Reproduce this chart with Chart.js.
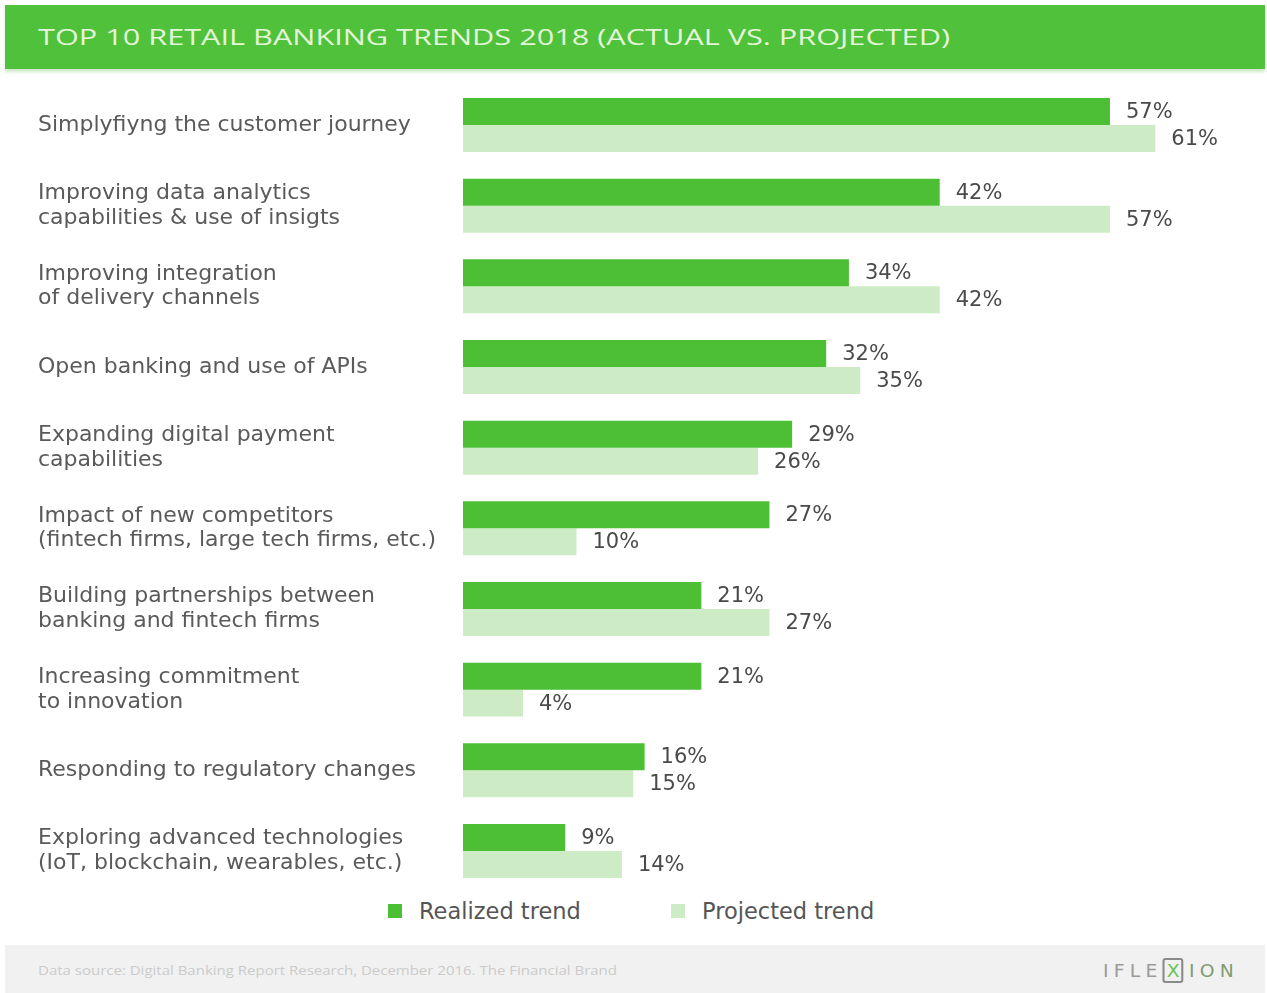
<!DOCTYPE html>
<html>
<head>
<meta charset="utf-8">
<script src="https://cdn.jsdelivr.net/npm/chart.js@4.4.1/dist/chart.umd.min.js"></script>
<style>
  html,body{margin:0;padding:0;background:#fff;width:1267px;height:993px;overflow:hidden;font-family:"Open Sans",sans-serif;}
  #header{position:absolute;left:5px;top:5px;width:1260px;height:64px;background:#4fc13a;box-shadow:0 3px 3px rgba(120,190,100,0.35);}
  #title{position:absolute;left:33px;top:18px;font-size:21px;line-height:28px;color:#e4f6d9;white-space:nowrap;transform-origin:0 50%;}
  #wrap{position:absolute;left:0;top:80px;width:1267px;height:816px;}
  #legend{position:absolute;top:898px;left:0;width:1267px;height:28px;font-size:22.5px;color:#555;font-family:"DejaVu Sans",sans-serif;}
  .lg{position:absolute;top:0;white-space:nowrap;line-height:26px;}
  .sw{position:absolute;top:6px;width:14px;height:14px;}
  #footer{position:absolute;left:5px;top:945px;width:1260px;height:48px;background:#f1f1f1;}
  #src{position:absolute;left:33px;top:17px;font-size:12px;color:#cbcbcb;white-space:nowrap;transform-origin:0 50%;}
  #logo{position:absolute;left:1098px;top:13px;font-size:18px;color:#9a9a9a;letter-spacing:5px;white-space:nowrap;font-family:"DejaVu Sans",sans-serif;transform-origin:0 50%;}
  #logo span{display:inline-block;border:2px solid #8a8a8a;border-radius:3px;color:#6cc35a;padding:0 2px;letter-spacing:0;line-height:21px;margin-right:5px;}
  #logo b{font-weight:normal;color:#7f9c76;}
</style>
</head>
<body>
<div id="header"><div id="title">TOP 10 RETAIL BANKING TRENDS 2018 (ACTUAL VS. PROJECTED)</div></div>
<div id="wrap"><canvas id="c"></canvas></div>
<div id="legend">
  <div class="sw" style="left:388px;background:#4cbf34"></div><div class="lg" style="left:419px">Realized trend</div>
  <div class="sw" style="left:671px;background:#cdebc5"></div><div class="lg" style="left:702px">Projected trend</div>
</div>
<div id="footer">
  <div id="src">Data source: Digital Banking Report Research, December 2016. The Financial Brand</div>
  <div id="logo">IFLE<span>X</span><b>ION</b></div>
</div>
<script>
const categories = [
  ["Simplyfiyng the customer journey"],
  ["Improving data analytics","capabilities & use of insigts"],
  ["Improving integration","of delivery channels"],
  ["Open banking and use of APIs"],
  ["Expanding digital payment","capabilities"],
  ["Impact of new competitors","(fintech firms, large tech firms, etc.)"],
  ["Building partnerships between","banking and fintech firms"],
  ["Increasing commitment","to innovation"],
  ["Responding to regulatory changes"],
  ["Exploring advanced technologies","(IoT, blockchain, wearables, etc.)"]
];
const realized = [57, 42, 34, 32, 29, 27, 21, 21, 16, 9];
const projected = [61, 57, 42, 35, 26, 10, 27, 4, 15, 14];
const seriesNames = ["Realized trend", "Projected trend"];

// stretch header/footer text to the widths seen in the reference
function fitWidth(id, target) {
  const el = document.getElementById(id);
  const w = el.getBoundingClientRect().width;
  el.style.transform = 'scaleX(' + (target / w) + ')';
}
fitWidth('title', 912);
fitWidth('src', 579);
fitWidth('logo', 136);

const valueLabels = {
  id: 'valueLabels',
  afterDatasetsDraw(chart) {
    const ctx = chart.ctx;
    ctx.save();
    ctx.font = '21px "DejaVu Sans", sans-serif';
    ctx.fillStyle = '#4a4a4a';
    ctx.textAlign = 'left';
    ctx.textBaseline = 'middle';
    chart.data.datasets.forEach((ds, i) => {
      chart.getDatasetMeta(i).data.forEach((bar, j) => {
        ctx.fillText(ds.data[j] + '%', bar.x + 16, bar.y + 1);
      });
    });
    ctx.restore();
  }
};

new Chart(document.getElementById('c'), {
  type: 'bar',
  data: {
    labels: categories,
    datasets: [
      {label: seriesNames[0], data: realized, backgroundColor: '#4cbf34', categoryPercentage: 0.669, barPercentage: 1.0},
      {label: seriesNames[1], data: projected, backgroundColor: '#cdebc5', categoryPercentage: 0.669, barPercentage: 1.0, minBarLength: 60}
    ]
  },
  options: {
    indexAxis: 'y',
    responsive: true,
    maintainAspectRatio: false,
    animation: false,
    layout: {padding: {left: 38, right: 9.5, top: 4.67, bottom: 4.7}},
    plugins: {legend: {display: false}, tooltip: {enabled: false}},
    scales: {
      x: {display: false, min: 0, max: 70},
      y: {
        grid: {display: false},
        border: {display: false},
        afterFit(scale) { scale.width = 425; scale.paddingTop = 0; scale.paddingBottom = 0; },
        ticks: {
          crossAlign: 'far',
          padding: 0,
          color: '#5a5a5a',
          font: {family: '"DejaVu Sans", sans-serif', size: 22, lineHeight: 1.12}
        }
      }
    }
  },
  plugins: [valueLabels]
});
</script>
</body>
</html>
